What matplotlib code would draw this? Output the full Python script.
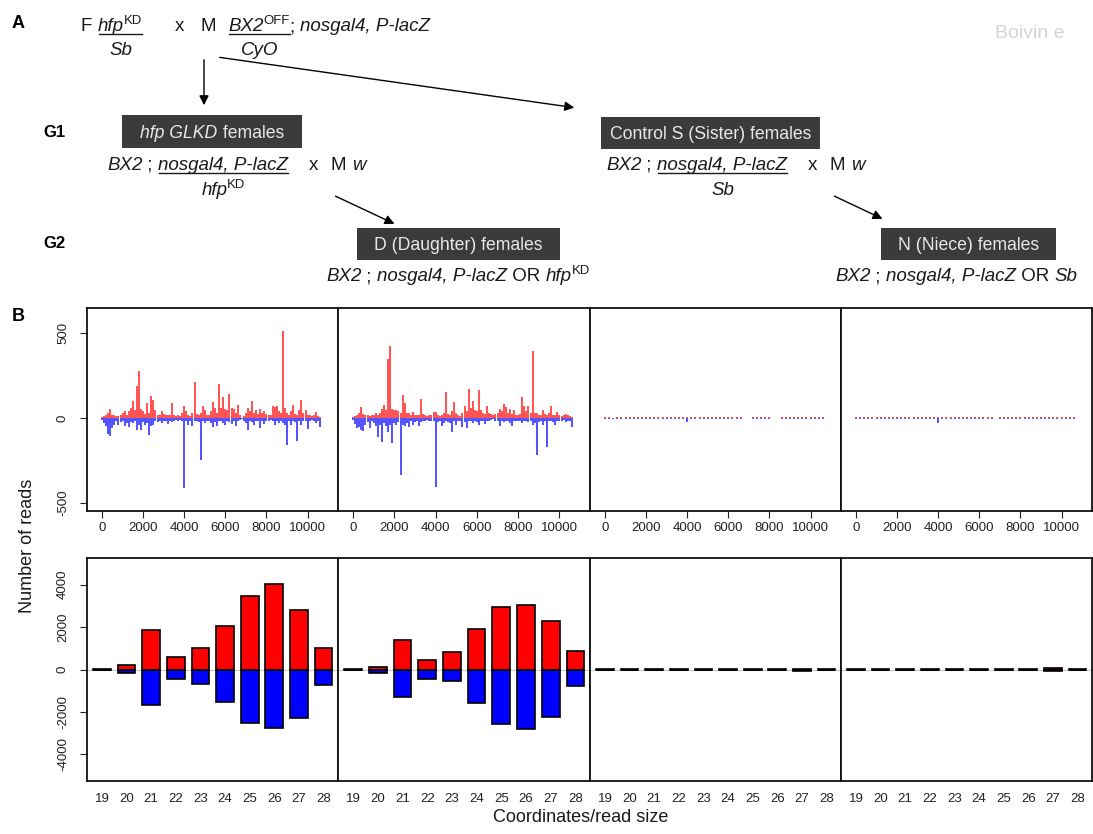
import matplotlib
matplotlib.use("Agg")
import matplotlib.pyplot as plt
import numpy as np
from matplotlib.lines import Line2D
from matplotlib.patches import Rectangle, FancyArrowPatch

plt.rcParams["font.family"] = ["Liberation Sans", "DejaVu Sans"]

W, H = 1093, 834

# ---- panel B, top row: reads along the BX2 transgene (step 100 bp / 200 bp) ----
coord_fine = np.arange(0, 10700, 100)
coord_coarse = np.arange(0, 10700, 200)

d_plus = [5, 10, 15, 30, 55, 20, 15, 10, 12, 15,
          30, 40, 20, 40, 60, 98, 45, 190, 278, 50,
          40, 25, 88, 30, 131, 104, 49, 20, 15, 40,
          25, 15, 20, 15, 88, 20, 10, 15, 10, 30,
          69, 40, 15, 10, 30, 210, 25, 15, 30, 69,
          45, 20, 15, 40, 92, 59, 30, 200, 60, 123,
          50, 49, 141, 60, 53, 30, 75, 20, 0, 10,
          30, 59, 40, 98, 30, 49, 25, 53, 30, 40,
          25, 20, 15, 69, 65, 69, 40, 30, 514, 60,
          30, 15, 40, 78, 25, 20, 45, 104, 30, 49,
          20, 15, 10, 20, 33, 10, 5]
d_minus = [-10, -30, -49, -92, -104, -59, -40, -20, -39, -25,
           -20, -49, -30, -53, -25, -30, -20, -73, -40, -73,
           -25, -39, -30, -98, -45, -39, -20, -25, -15, -29,
           -20, -15, -33, -20, -25, -15, -10, -15, -10, -15,
           -412, -20, -39, -15, -49, -20, -15, -25, -245, -20,
           -29, -15, -20, -30, -53, -25, -49, -20, -15, -29,
           -39, -20, -25, -33, -20, -49, -15, -10, -5, -15,
           -30, -69, -20, -25, -39, -20, -15, -59, -20, -33,
           -15, -20, -10, -20, -39, -15, -29, -20, -30, -40,
           -157, -20, -39, -15, -25, -133, -20, -39, -15, -20,
           -65, -15, -10, -15, -29, -20, -53]

gd_plus = [5, 10, 15, 30, 63, 25, 20, 15, 10, 15,
           20, 29, 15, 30, 50, 78, 49, 347, 421, 50,
           45, 45, 40, 30, 133, 88, 30, 29, 15, 35,
           20, 15, 20, 112, 25, 15, 10, 15, 20, 33,
           33, 20, 10, 15, 30, 153, 25, 20, 40, 94,
           30, 20, 10, 30, 69, 40, 172, 60, 98, 49,
           40, 167, 45, 30, 25, 69, 30, 25, 15, 25,
           30, 53, 40, 82, 65, 30, 53, 25, 45, 20,
           15, 25, 123, 69, 40, 69, 30, 396, 30, 29,
           20, 15, 49, 25, 15, 30, 69, 20, 15, 33,
           20, 10, 15, 25, 20, 10, 5]
gd_minus = [-10, -35, -59, -50, -69, -78, -40, -25, -59, -20,
            -30, -45, -114, -40, -141, -30, -49, -84, -40, -147,
            -30, -39, -25, -333, -40, -49, -30, -53, -20, -39,
            -25, -20, -49, -25, -20, -15, -10, -20, -15, -20,
            -406, -25, -20, -49, -30, -20, -25, -30, -82, -20,
            -39, -15, -20, -55, -25, -59, -20, -15, -29, -20,
            -25, -39, -20, -15, -33, -20, -15, -10, -5, -15,
            -20, -49, -20, -25, -15, -20, -30, -49, -20, -15,
            -20, -15, -29, -20, -15, -25, -20, -39, -30, -220,
            -25, -20, -39, -15, -171, -20, -15, -25, -39, -20,
            -15, -20, -10, -25, -15, -20, -53]

s_plus = [3, 4, 0, 4, 3, 5, 4, 3, 4, 5, 4, 3, 4, 5, 4, 3, 5, 4, 3, 4,
          3, 4, 5, 3, 4, 3, 4, 5, 3, 4, 4, 3, 5, 4, 0, 0, 5, 6, 8, 6,
          4, 0, 0, 4, 3, 4, 5, 3, 4, 3, 4, 3, 4, 3]
s_minus = [-4, -5, -3, -4, -5, -4, -5, -6, -4, -5, -4, -5, -4, -5, -4, -6, -5, -4, -5, -4,
           -24, -5, -4, -5, -4, -5, -6, -4, -5, -4, -5, -4, -5, -4, 0, 0, -3, -4, -3, -4,
           -3, 0, 0, -5, -4, -5, -4, -5, -4, -5, -4, -5, -4, -3]
n_plus = [6, 7, 5, 6, 7, 6, 5, 7, 6, 5, 6, 7, 6, 5, 7, 6, 5, 6, 7, 6,
          5, 6, 7, 6, 5, 6, 7, 6, 5, 6, 7, 6, 5, 6, 0, 6, 5, 7, 6, 5,
          6, 7, 6, 5, 6, 7, 6, 5, 6, 7, 6, 5, 6, 5]
n_minus = [-6, -7, -6, -5, -7, -6, -7, -6, -5, -6, -7, -6, -5, -7, -6, -5, -6, -7, -6, -5,
           -30, -6, -7, -5, -6, -7, -6, -5, -7, -6, -5, -6, -7, -6, 0, -6, -7, -6, -5, -6,
           -7, -6, -5, -7, -6, -5, -6, -7, -6, -5, -6, -7, -6, -5]

# ---- panel B, bottom row: reads by size ----
read_sizes = ["19", "20", "21", "22", "23", "24", "25", "26", "27", "28"]
size_d_plus = [40, 200, 1850, 580, 990, 2070, 3480, 4030, 2780, 990]
size_d_minus = [-40, -150, -1680, -470, -660, -1510, -2530, -2760, -2280, -720]
size_gd_plus = [30, 140, 1380, 470, 830, 1900, 2920, 3060, 2290, 890]
size_gd_minus = [-30, -160, -1300, -440, -550, -1600, -2570, -2820, -2240, -770]
size_s_plus = [5, 5, 10, 10, 10, 15, 40, 20, 30, 10]
size_s_minus = [-5, -5, -10, -10, -10, -10, -15, -20, -50, -10]
size_n_plus = [5, 10, 30, 10, 10, 15, 20, 40, 50, 10]
size_n_minus = [-5, -10, -25, -10, -10, -15, -20, -35, -50, -10]

FS = 13.5  # genotype text size

fig = plt.figure(figsize=(W / 100, H / 100), dpi=100)
renderer = fig.canvas.get_renderer()


def fx(x):
    return x / W


def fy(y):
    return 1 - y / H


def style_kw(kind, size):
    if kind == "sup":
        return dict(fontsize=size * 0.7)
    return dict(fontsize=size, style="italic" if kind == "i" else "normal")


def text_width(s, **kw):
    t = fig.text(0, 0, "|" + s + "|", **kw)
    t2 = fig.text(0, 0, "||", **kw)
    w = t.get_window_extent(renderer).width - t2.get_window_extent(renderer).width
    t.remove()
    t2.remove()
    return w


def parts_width(parts, size=FS):
    return sum(text_width(s, **style_kw(k, size)) for s, k in parts)


def write_parts(x, y, parts, size=FS, color="#1a1a1a"):
    """Write text pieces one after another; returns list of (x0, x1) per piece."""
    spans = []
    cur = x
    for s, kind in parts:
        kw = style_kw(kind, size)
        yy = y - 7 if kind == "sup" else y
        fig.text(fx(cur), fy(yy), s, va="baseline", ha="left", color=color, **kw)
        w = text_width(s, **kw)
        spans.append((cur, cur + w))
        cur += w
    return spans


def underline(x0, x1, y):
    fig.add_artist(Line2D([fx(x0), fx(x1)], [fy(y), fy(y)], color="#1a1a1a", lw=1.0))


def label_box(x0, y0, x1, y1, parts, size=12.7):
    fig.add_artist(Rectangle((fx(x0), fy(y1)), fx(x1 - x0), (y1 - y0) / H,
                             facecolor="#3b3b3b", edgecolor="none"))
    total = parts_width(parts, size)
    write_parts((x0 + x1) / 2 - total / 2, (y0 + y1) / 2 + 6, parts, size, "#e8e8e8")


def arrow(p0, p1):
    fig.add_artist(FancyArrowPatch((fx(p0[0]), fy(p0[1])), (fx(p1[0]), fy(p1[1])),
                                   transform=fig.transFigure, arrowstyle="-|>",
                                   mutation_scale=14, lw=1.0, color="black"))


def fraction(x, y, num_parts, den_parts, y_den):
    spans = write_parts(x, y, num_parts)
    u0 = spans[0][0] + 1
    u1 = spans[-1][1]
    underline(u0, u1, y + 3)
    wden = parts_width(den_parts)
    write_parts((u0 + u1) / 2 - wden / 2, y_den, den_parts)
    return u1


# ---- panel A: crossing scheme ----
fig.text(fx(12), fy(28), "A", fontsize=13, fontweight="bold", va="baseline")
fig.text(fx(12), fy(321), "B", fontsize=13, fontweight="bold", va="baseline")
fig.text(fx(995), fy(38), "Boivin e", fontsize=14, color="#d4d4d4", va="baseline")

write_parts(80, 31, [("F", "r")])
fraction(98, 31, [("hfp", "i"), ("KD", "sup")], [("Sb", "i")], 55)
write_parts(175, 31, [("x", "r")])
write_parts(200, 31, [("M", "r")])
end = fraction(228, 31, [("BX2", "i"), ("OFF", "sup")], [("CyO", "i")], 55)
write_parts(end, 31, [("; ", "r"), ("nosgal4, P-lacZ", "i")])

arrow((204, 57), (204, 108))
arrow((217, 57), (577, 108))

fig.text(fx(43), fy(137), "G1", fontsize=12, fontweight="bold", va="baseline")
fig.text(fx(43), fy(248), "G2", fontsize=12, fontweight="bold", va="baseline")

label_box(122, 115, 302, 148, [("hfp GLKD", "i"), (" females", "r")])
label_box(601, 117, 820, 149, [("Control S (Sister) females", "r")])
label_box(357, 228, 560, 260, [("D (Daughter) females", "r")])
label_box(881, 228, 1056, 260, [("N (Niece) females", "r")])

# G1 crosses
sp = write_parts(107, 170, [("BX2", "i"), (" ; ", "r")])
fraction(sp[-1][1], 170, [("nosgal4, P-lacZ", "i")], [("hfp", "i"), ("KD", "sup")], 195)
write_parts(309, 170, [("x", "r")])
write_parts(331, 170, [("M ", "r"), ("w", "i")])

sp = write_parts(606, 170, [("BX2", "i"), (" ; ", "r")])
fraction(sp[-1][1], 170, [("nosgal4, P-lacZ", "i")], [("Sb", "i")], 195)
write_parts(808, 170, [("x", "r")])
write_parts(830, 170, [("M ", "r"), ("w", "i")])

arrow((333, 195), (397, 225))
arrow((832, 195), (885, 220))

# G2 genotypes
write_parts(326, 281, [("BX2", "i"), (" ; ", "r"), ("nosgal4, P-lacZ", "i"),
                       (" OR ", "r"), ("hfp", "i"), ("KD", "sup")])
write_parts(835, 281, [("BX2", "i"), (" ; ", "r"), ("nosgal4, P-lacZ", "i"),
                       (" OR ", "r"), ("Sb", "i")])

# ---- panel B axes ----
cols = [(87, 338), (338, 590), (590, 841), (841, 1092)]
top = (308, 511)
bottom = (558, 781)

coverage = [(coord_fine, d_plus, d_minus), (coord_fine, gd_plus, gd_minus),
            (coord_coarse, s_plus, s_minus), (coord_coarse, n_plus, n_minus)]
sizes = [(size_d_plus, size_d_minus), (size_gd_plus, size_gd_minus),
         (size_s_plus, size_s_minus), (size_n_plus, size_n_minus)]


def make_axes(x0, x1, y0, y1):
    ax = fig.add_axes([fx(x0), fy(y1), (x1 - x0) / W, (y1 - y0) / H])
    for sp_ in ax.spines.values():
        sp_.set_linewidth(1.3)
        sp_.set_color("#111111")
    return ax


for i, (x0, x1) in enumerate(cols):
    coords, plus, minus = coverage[i]
    ax = make_axes(x0, x1, *top)
    ax.vlines(coords, 0, plus, color="#ff0000", lw=1.2, alpha=0.8)
    ax.vlines(coords, 0, minus, color="#0000ff", lw=1.2, alpha=0.8)
    ax.set_xlim(-730, 11480)
    ax.set_ylim(-547, 647)
    ax.set_xticks(np.arange(0, 10001, 2000))
    ax.tick_params(axis="x", labelsize=9.5, length=5, width=0.8, pad=3, colors="#222222")
    if i == 0:
        ax.set_yticks([-500, 0, 500])
        ax.set_yticklabels(["-500", "0", "500"], rotation=90, va="center")
        ax.tick_params(axis="y", labelsize=9.5, length=5, width=0.8, pad=8, colors="#222222")
    else:
        ax.set_yticks([])

    plus_s, minus_s = sizes[i]
    ax = make_axes(x0, x1, *bottom)
    pos = np.arange(len(read_sizes))
    ax.axhline(0, color="#c8c8c8", lw=0.8, zorder=0)
    ax.bar(pos, plus_s, width=0.72, color="#ff0000", edgecolor="black", lw=1.2)
    ax.bar(pos, minus_s, width=0.72, color="#0000ff", edgecolor="black", lw=1.2)
    ax.set_xlim(-0.61, 9.59)
    ax.set_ylim(-5250, 5250)
    ax.set_xticks(pos)
    ax.set_xticklabels(read_sizes)
    ax.tick_params(axis="x", labelsize=9.5, length=0, pad=9, colors="#222222")
    if i == 0:
        ax.set_yticks([-4000, -2000, 0, 2000, 4000])
        ax.set_yticklabels(["-4000", "-2000", "0", "2000", "4000"], rotation=90, va="center")
        ax.tick_params(axis="y", labelsize=9.5, length=5, width=0.8, pad=8, colors="#222222")
    else:
        ax.set_yticks([])

fig.text(fx(28), fy(546), "Number of reads", rotation=90, fontsize=13,
         ha="center", va="center", color="#1a1a1a")
fig.text(fx(581), fy(818), "Coordinates/read size", fontsize=13,
         ha="center", va="center", color="#1a1a1a")

fig.savefig("out.png", dpi=100)
